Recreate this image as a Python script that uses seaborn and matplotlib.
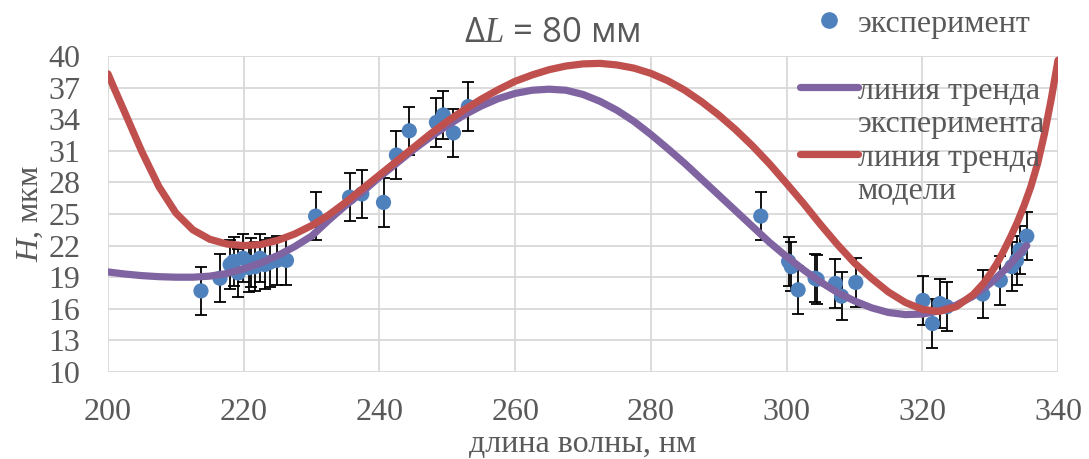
import numpy as np
import pandas as pd
import matplotlib
matplotlib.use("Agg")
import matplotlib.pyplot as plt
from matplotlib.lines import Line2D
import seaborn as sns

wavelength = [213.7, 216.5, 218.0, 218.5, 219.2, 219.9, 220.8, 221.1, 221.7, 222.4,
              223.1, 223.8, 224.9, 226.3, 230.6, 235.6, 237.4, 240.6, 242.5, 244.4,
              248.4, 249.4, 250.9, 253.1, 296.2, 300.3, 300.7, 301.7, 304.2, 304.5,
              307.2, 308.1, 310.2, 320.1, 321.5, 322.6, 323.6, 328.9, 331.5, 333.2,
              333.9, 334.4, 335.4]
height = [17.7, 18.9, 20.2, 20.5, 19.4, 20.8, 19.9, 20.4, 20.0, 20.8,
          20.2, 20.4, 20.6, 20.6, 24.8, 26.6, 26.9, 26.1, 30.6, 32.9,
          33.7, 34.4, 32.7, 35.2, 24.8, 20.5, 20.0, 17.8, 18.9, 18.8,
          18.4, 17.2, 18.5, 16.8, 14.6, 16.5, 16.2, 17.4, 18.7, 20.0,
          20.6, 21.6, 22.9]
height_err = 2.3

exp_trend_x = [200, 202.5, 205, 207.5, 210, 212.5, 215, 217.5, 220, 222.5, 225, 227.5,
               230, 232.5, 235, 237.5, 240, 242.5, 245, 247.5, 250, 252.5, 255, 257.5,
               260, 262.5, 265, 267.5, 270, 272.5, 275, 277.5, 280, 282.5, 285, 287.5,
               290, 292.5, 295, 297.5, 300, 302.5, 305, 307.5, 310, 312.5, 315, 317.5,
               320, 322.5, 325, 327.5, 330, 332.5, 335, 335.4]
exp_trend_y = [19.5, 19.3, 19.15, 19.05, 19.0, 19.0, 19.1, 19.35, 19.8, 20.35, 21.05, 21.9,
               22.9, 24.4, 25.8, 27.1, 28.5, 29.8, 31.1, 32.3, 33.4, 34.4, 35.25, 35.95,
               36.45, 36.75, 36.85, 36.75, 36.35, 35.7, 34.85, 33.8, 32.55, 31.2, 29.8, 28.3,
               26.8, 25.3, 23.8, 22.3, 20.95, 19.7, 18.55, 17.55, 16.75, 16.1, 15.65, 15.45,
               15.5, 15.8, 16.35, 17.2, 18.4, 19.9, 21.7, 22.0]

# trend line of the model
mod_trend_x = [200, 201, 202.5, 205, 207.5, 210, 212.5, 215, 217.5, 220, 222.5, 225,
               227.5, 230, 232.5, 235, 237.5, 240, 242.5, 245, 247.5, 250, 252.5, 255,
               257.5, 260, 262.5, 265, 267.5, 270, 272.5, 275, 277.5, 280, 282.5, 285,
               287.5, 290, 292.5, 295, 297.5, 300, 302.5, 305, 307.5, 310, 312.5, 315,
               317.5, 320, 322.5, 325, 327.5, 329, 330, 331, 332, 333, 334, 335, 336,
               337, 338, 339, 340]
mod_trend_y = [38.3, 36.8, 34.6, 30.9, 27.6, 25.1, 23.5, 22.6, 22.15, 22.0, 22.1, 22.5,
               23.1, 23.9, 24.9, 26.1, 27.4, 28.7, 30.0, 31.3, 32.6, 33.8, 34.9, 35.9,
               36.8, 37.6, 38.2, 38.7, 39.05, 39.25, 39.3, 39.15, 38.85, 38.35, 37.65, 36.75,
               35.65, 34.4, 33.0, 31.45, 29.75, 27.9, 26.0, 24.0, 22.1, 20.35, 18.9, 17.6,
               16.6, 15.95, 15.75, 16.2, 17.35, 18.4, 19.3, 20.3, 21.5, 22.8, 24.2, 25.8,
               27.6, 29.8, 32.6, 35.9, 39.6]

x_ticks = [200, 220, 240, 260, 280, 300, 320, 340]
y_ticks = [10, 13, 16, 19, 22, 25, 28, 31, 34, 37, 40]

points = pd.DataFrame({"x": wavelength, "y": height})
exp_trend = pd.DataFrame({"x": exp_trend_x, "y": exp_trend_y})
mod_trend = pd.DataFrame({"x": mod_trend_x, "y": mod_trend_y})

sns.set_style("white")
plt.rcParams["font.family"] = ["Liberation Serif", "DejaVu Serif"]
plt.rcParams["mathtext.fontset"] = "custom"
plt.rcParams["mathtext.it"] = "Liberation Serif:italic"
plt.rcParams["mathtext.rm"] = "Liberation Serif"

gray = "#595959"
blue = "#4F81BD"
purple = "#8064A2"
red = "#C0504D"

fig = plt.figure(figsize=(10.89, 4.59), dpi=100)
ax = fig.add_axes([108 / 1089, 1 - 372 / 459, 950 / 1089, 316 / 459])

ax.errorbar(points["x"], points["y"], yerr=height_err, fmt="none", ecolor="black",
            elinewidth=1.3, capsize=4, capthick=1.3, zorder=2)
sns.scatterplot(data=points, x="x", y="y", color=blue, s=120, edgecolor="none",
                ax=ax, zorder=3, legend=False)
sns.lineplot(data=exp_trend, x="x", y="y", color=purple, linewidth=5.2, ax=ax,
             zorder=4, estimator=None, sort=False, solid_capstyle="round",
             solid_joinstyle="round")
sns.lineplot(data=mod_trend, x="x", y="y", color=red, linewidth=5.2, ax=ax,
             zorder=5, estimator=None, sort=False, solid_capstyle="round",
             solid_joinstyle="round")

ax.set_xlim(200, 340)
ax.set_ylim(10, 40)
ax.set_xticks(x_ticks)
ax.set_yticks(y_ticks)
ax.grid(True, color="#D9D9D9", linewidth=1.3)
for s in ax.spines.values():
    s.set_visible(False)
ax.tick_params(axis="both", length=0, labelsize=23, labelcolor=gray)
ax.tick_params(axis="x", pad=19)
ax.tick_params(axis="y", pad=20)
ax.set_xlabel("длина волны, нм", fontsize=23, color=gray, labelpad=2)
ax.set_ylabel("$H$, мкм", fontsize=23, color=gray, labelpad=2)

fig.text(552 / 1089, 1 - 33 / 459, "Δ$L$ = 80 мм", ha="center", va="center",
         fontsize=25, color=gray, family=["Open Sans", "DejaVu Sans"])

blank = Line2D([], [], linestyle="none")
handles = [
    Line2D([], [], linestyle="none", marker="o", markersize=11, color=blue),
    blank,
    Line2D([], [], color=purple, linewidth=5.2, solid_capstyle="round"),
    blank,
    Line2D([], [], color=red, linewidth=5.2, solid_capstyle="round"),
    blank,
]
labels = ["эксперимент", "", "линия тренда", "эксперимента", "линия тренда", "модели"]
leg = fig.legend(handles, labels, loc="upper left",
                 bbox_to_anchor=(797 / 1089, 1 - 6 / 459),
                 frameon=False, fontsize=23, labelcolor=gray, handlelength=1.8,
                 handletextpad=0.0, labelspacing=0.13, borderpad=0.1, borderaxespad=0)

fig.savefig("out.png", dpi=100)
